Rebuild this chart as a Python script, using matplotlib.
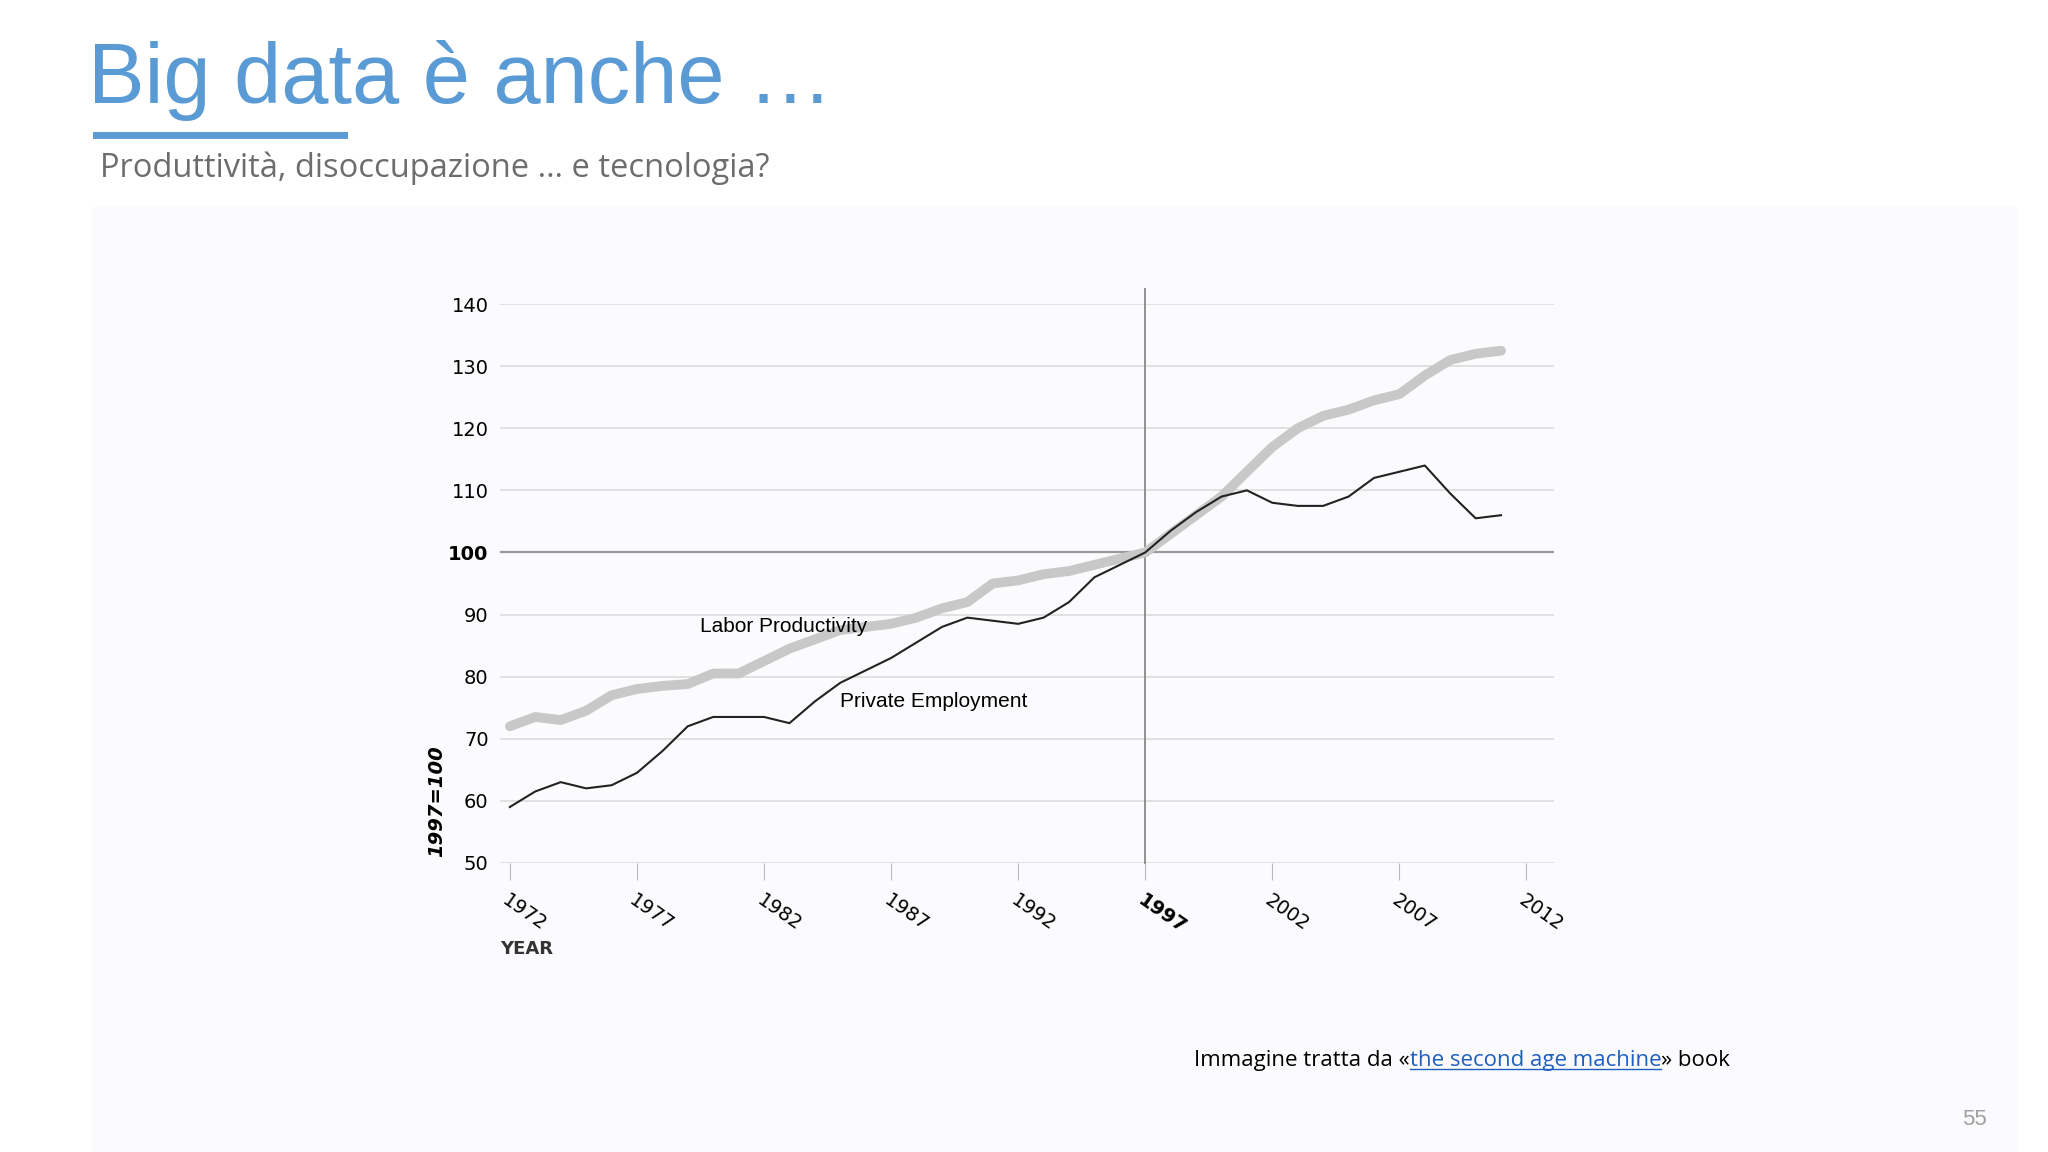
import matplotlib.pyplot as plt
from matplotlib.lines import Line2D
from matplotlib.patches import Rectangle

years = list(range(1972, 2012))
productivity = [72, 73.5, 73, 74.5, 77, 78, 78.5, 78.8, 80.5, 80.5,
                82.5, 84.5, 86, 87.5, 88, 88.5, 89.5, 91, 92, 95,
                95.5, 96.5, 97, 98, 99, 100, 103, 106, 109, 113,
                117, 120, 122, 123, 124.5, 125.5, 128.5, 131, 132, 132.5]
employment = [59, 61.5, 63, 62, 62.5, 64.5, 68, 72, 73.5, 73.5,
              73.5, 72.5, 76, 79, 81, 83, 85.5, 88, 89.5, 89,
              88.5, 89.5, 92, 96, 98, 100, 103.5, 106.5, 109, 110,
              108, 107.5, 107.5, 109, 112, 113, 114, 109.5, 105.5, 106]
x_ticks = [1972, 1977, 1982, 1987, 1992, 1997, 2002, 2007, 2012]
y_ticks = [50, 60, 70, 80, 90, 100, 110, 120, 130, 140]

fig = plt.figure(figsize=(20.48, 11.52), dpi=100)
fig.patch.set_facecolor("white")

# faint panel behind the image
fig.patches.append(Rectangle((0.045, 0.0), 0.94, 0.82, transform=fig.transFigure,
                             facecolor="#fbfafc", edgecolor="none", zorder=-5))

fig.text(0.043, 0.93, "Big data è anche …", fontsize=61, color="#5b9bd5",
         family="Liberation Sans", va="center")
fig.lines.append(Line2D([0.047, 0.168], [0.883, 0.883], transform=fig.transFigure,
                        color="#5b9bd5", lw=5))
fig.text(0.049, 0.854, "Produttività, disoccupazione … e tecnologia?", fontsize=23.5,
         color="#6d6d6d", family="Open Sans", va="center")

ax = fig.add_axes([0.244, 0.251, 0.515, 0.485])
ax.set_zorder(2)
ax.set_facecolor("none")
ax.set_xlim(1971.6, 2013.1)
ax.set_ylim(50, 140)
for y in y_ticks:
    ax.axhline(y, color="#999999" if y == 100 else "#dddddd",
               lw=1.6 if y == 100 else 1.2, zorder=1)
ax.plot([1997, 1997], [50, 142.5], color="#888888", lw=1.3, clip_on=False, zorder=2)
ax.plot(years, productivity, color="#c8c8c8", lw=7, solid_capstyle="round", zorder=3)
ax.plot(years, employment, color="#222222", lw=1.5, zorder=4)
for s in ax.spines.values():
    s.set_visible(False)
ax.set_yticks(y_ticks)
ax.set_yticklabels([str(v) for v in y_ticks], fontsize=14, family="Liberation Sans Narrow")
ax.get_yticklabels()[5].set_fontweight("bold")
ax.tick_params(axis="y", length=0, pad=8)
ax.set_xticks(x_ticks)
ax.set_xticklabels([str(v) for v in x_ticks], rotation=-35, ha="left",
                   rotation_mode="anchor", fontsize=14, family="Liberation Sans Narrow")
ax.get_xticklabels()[5].set_fontweight("bold")
ax.tick_params(axis="x", length=12, color="#bbbbbb", pad=8)
ax.text(1979.5, 88, "Labor Productivity", fontsize=15, family="Liberation Sans", va="center")
ax.text(1985, 76, "Private Employment", fontsize=15, family="Liberation Sans", va="center")
ax.text(-0.06, 0.11, "1997=100", transform=ax.transAxes, rotation=90, fontsize=14,
        fontweight="bold", fontstyle="italic", ha="center", va="center")
ax.text(0.0, -0.155, "YEAR", transform=ax.transAxes, fontsize=13, fontweight="bold",
        color="#333333", va="center")

fy = 0.079
t1 = fig.text(0.583, fy, "Immagine tratta da «", fontsize=16, family="Open Sans", va="center")
fig.canvas.draw()
bb = t1.get_window_extent().transformed(fig.transFigure.inverted())
t2 = fig.text(bb.x1, fy, "the second age machine", fontsize=16, family="Open Sans",
              va="center", color="#1f5fbf")
fig.canvas.draw()
bb2 = t2.get_window_extent().transformed(fig.transFigure.inverted())
fig.lines.append(Line2D([bb2.x0, bb2.x1], [bb2.y0 + 0.002, bb2.y0 + 0.002],
                        transform=fig.transFigure, color="#1f5fbf", lw=1))
fig.text(bb2.x1, fy, "» book", fontsize=16, family="Open Sans", va="center")
fig.text(0.970, 0.028, "55", fontsize=16, color="#a0a0a0", family="Liberation Sans",
         ha="right", va="center")

fig.savefig("out.png", dpi=100)
